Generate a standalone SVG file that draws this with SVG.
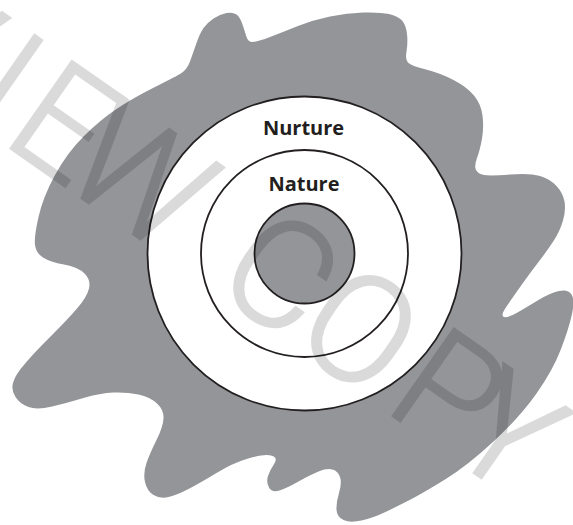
<svg xmlns="http://www.w3.org/2000/svg" width="573" height="525" viewBox="0 0 573 525">
<style>
.ring{fill:#ffffff;stroke:#231f20;stroke-width:1.8}
.core{fill:#939598;stroke:#231f20;stroke-width:1.8}
.lbl{font-family:"Open Sans","Liberation Sans",sans-serif;font-weight:700;font-size:20px;fill:#231f20;text-anchor:middle}
.wm{font-family:Roboto,"DejaVu Sans",sans-serif;font-weight:300;font-size:150px;fill:#000;stroke:#000;stroke-width:2.5;text-anchor:middle}
</style>
<rect width="573" height="525" fill="#ffffff"/>
<g id="blob">
<path fill="#939598" d="M180,74 Q187,70 190,61.5 Q193,53 196.5,43 Q200,33 203.5,28 Q207,23 213.5,18.5 Q220,14 226.5,13 Q233,12 236.5,14.5 Q240,17 242.5,24.5 Q245,32 246.5,37 Q248,42 252.5,42 Q257,42 270,37 Q283,32 298,26 Q313,20 330,16.5 Q347,13 363.5,12.5 Q380,12 389,14 Q398,16 402,20.5 Q406,25 407,34 Q408,43 406.5,51.5 Q405,60 408.5,63 Q412,66 426,69.5 Q440,73 453.5,80 Q467,87 474,95.5 Q481,104 482.5,115.5 Q484,127 482,138.5 Q480,150 477,158 Q474,166 476,170 Q478,174 484,175 Q490,176 510,174.5 Q530,173 540,176 Q550,179 556.5,186 Q563,193 564.5,201.5 Q566,210 563,220.5 Q560,231 553.5,241 Q547,251 538.5,262 Q530,273 521.5,285 Q513,297 506.5,306.5 Q500,316 504,317 Q508,318 517.5,312.5 Q527,307 538.5,300 Q550,293 559,291 Q568,289 571.5,294.5 Q575,300 572,314 Q569,328 561,349 Q553,370 536.5,393.5 Q520,417 493.5,441.5 Q467,466 445,479.5 Q423,493 411.5,499 Q400,505 386.5,511.5 Q373,518 361.5,520.5 Q350,523 343.5,520 Q337,517 336.5,510 Q336,503 339,493 Q342,483 340,477 Q338,471 332.5,469.5 Q327,468 318.5,471.5 Q310,475 298.5,481.5 Q287,488 279.5,490.5 Q272,493 269,487.5 Q266,482 268,476 Q270,470 273.5,465 Q277,460 275,457.5 Q273,455 266.5,455 Q260,455 246.5,459 Q233,463 216.5,473 Q200,483 188.5,489 Q177,495 168.5,497 Q160,499 153.5,495 Q147,491 145,482 Q143,473 146.5,463 Q150,453 156.5,440 Q163,427 163.5,418.5 Q164,410 157,403.5 Q150,397 138.5,394.5 Q127,392 113.5,392.5 Q100,393 83.5,398 Q67,403 52,406.5 Q37,410 28.5,407 Q20,404 15.5,397 Q11,390 13,383 Q15,376 21,368.5 Q27,361 33.5,354 Q40,347 53.5,333.5 Q67,320 77,308.5 Q87,297 89,288.5 Q91,280 84.5,273.5 Q78,267 64,264.5 Q50,262 43,257.5 Q36,253 35,245 Q34,237 38.5,217 Q43,197 55,175 Q67,153 83.5,136.5 Q100,120 116.5,109 Q133,98 153,88 Q173,78 180,74 Z"/>
</g>
<g id="nurture">
<circle class="ring" cx="304.5" cy="253.5" r="157"/>
<text class="lbl" x="303.5" y="135">Nurture</text>
</g>
<g id="nature">
<circle class="ring" cx="304.5" cy="253.5" r="103.5"/>
<text class="lbl" x="304" y="190.5">Nature</text>
</g>
<g id="core">
<circle class="core" cx="304.5" cy="253.5" r="50"/>
</g>
<g id="connectors"/>
<g id="watermark" opacity="0.14">
<text class="wm" transform="translate(10,148) rotate(35)"><tspan x="-255">PREV</tspan><tspan x="-40">I</tspan><tspan x="30">E</tspan><tspan x="123">W</tspan><tspan x="294">C</tspan><tspan x="391">O</tspan><tspan x="500">P</tspan><tspan x="571">Y</tspan></text>
</g>
</svg>
